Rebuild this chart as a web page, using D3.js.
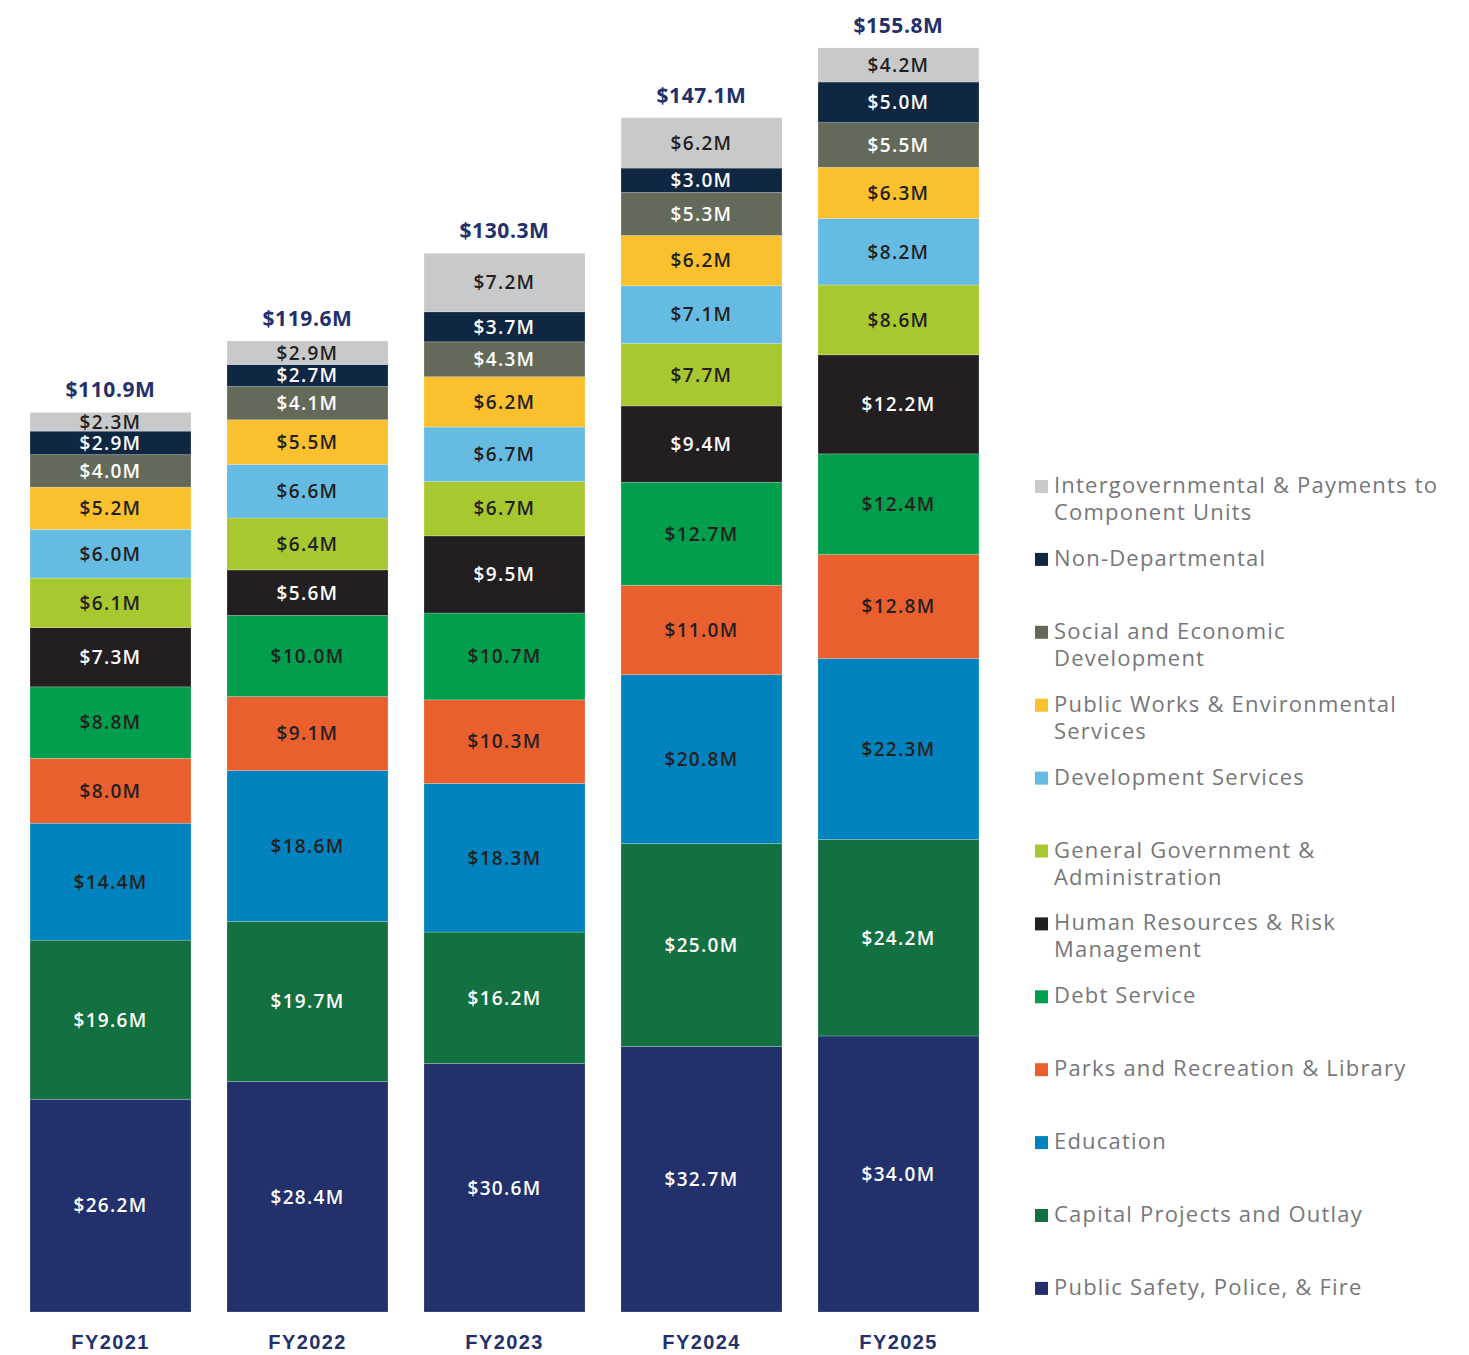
<!DOCTYPE html>
<html>
<head>
<meta charset="utf-8">
<script src="https://cdn.jsdelivr.net/npm/d3@7"></script>
<style>
  body { margin: 0; background: #fff; }
  svg { display: block; font-family: "Open Sans", "Noto Sans", sans-serif; }
  .seg-label { font-size: 19px; font-weight: 600; text-anchor: middle; letter-spacing: 1.3px; }
  .total-label { font-size: 21px; font-weight: 700; fill: #22306b; text-anchor: middle; letter-spacing: 0.6px; }
  .year-label { font-size: 20px; font-weight: 600; fill: #22306b; text-anchor: middle; letter-spacing: 1.4px; }
  .legend-text { font-size: 22px; fill: #76777a; letter-spacing: 1.2px; }
</style>
</head>
<body>
<svg id="chart" width="1469" height="1355"></svg>
<script>
// fiscal years and totals shown above each bar
const years = ["FY2021", "FY2022", "FY2023", "FY2024", "FY2025"];
const totals = [110.9, 119.6, 130.3, 147.1, 155.8];

// categories, bottom of the stack first
const categories = [
  "Public Safety, Police, & Fire",
  "Capital Projects and Outlay",
  "Education",
  "Parks and Recreation & Library",
  "Debt Service",
  "Human Resources & Risk Management",
  "General Government & Administration",
  "Development Services",
  "Public Works & Environmental Services",
  "Social and Economic Development",
  "Non-Departmental",
  "Intergovernmental & Payments to Component Units"
];

// legend wording, split the way the legend wraps it
const legendLines = {
  "Intergovernmental & Payments to Component Units": ["Intergovernmental & Payments to", "Component Units"],
  "Social and Economic Development": ["Social and Economic", "Development"],
  "Public Works & Environmental Services": ["Public Works & Environmental", "Services"],
  "General Government & Administration": ["General Government &", "Administration"],
  "Human Resources & Risk Management": ["Human Resources & Risk", "Management"]
};

const colors = [
  "#22306b", "#137040", "#0083be", "#e95f2e", "#009e4d", "#231f20",
  "#a8c82f", "#66bbe3", "#fbc02e", "#646a59", "#0f2742", "#c8c9cb"
];

// label on dark segments is white
const whiteText = [true, true, false, false, false, true, false, false, false, true, true, false];

// values in $M, one array per category, FY2021..FY2025
const publicSafety = [26.2, 28.4, 30.6, 32.7, 34.0];
const capitalProjects = [19.6, 19.7, 16.2, 25.0, 24.2];
const education = [14.4, 18.6, 18.3, 20.8, 22.3];
const parksRecreation = [8.0, 9.1, 10.3, 11.0, 12.8];
const debtService = [8.8, 10.0, 10.7, 12.7, 12.4];
const humanResources = [7.3, 5.6, 9.5, 9.4, 12.2];
const generalGovernment = [6.1, 6.4, 6.7, 7.7, 8.6];
const developmentServices = [6.0, 6.6, 6.7, 7.1, 8.2];
const publicWorks = [5.2, 5.5, 6.2, 6.2, 6.3];
const socialEconomic = [4.0, 4.1, 4.3, 5.3, 5.5];
const nonDepartmental = [2.9, 2.7, 3.7, 3.0, 5.0];
const intergovernmental = [2.3, 2.9, 7.2, 6.2, 4.2];

const seriesValues = [
  publicSafety, capitalProjects, education, parksRecreation, debtService,
  humanResources, generalGovernment, developmentServices, publicWorks,
  socialEconomic, nonDepartmental, intergovernmental
];

const rows = years.map((year, i) => {
  const row = {year: year, total: totals[i]};
  categories.forEach((c, j) => { row[c] = seriesValues[j][i]; });
  return row;
});

const svg = d3.select("#chart");

const x = d3.scaleBand()
  .domain(years)
  .range([12, 997])
  .paddingInner(0.1827)
  .paddingOuter(0.0914);

const y = d3.scaleLinear()
  .domain([0, 160])
  .range([1312, 13]);

const stack = d3.stack().keys(categories);
const series = stack(rows);

const fmt = (v) => "$" + d3.format(".1f")(v) + "M";

const layers = svg.append("g")
  .selectAll("g")
  .data(series)
  .join("g")
  .attr("fill", (d, i) => colors[i]);

layers.selectAll("rect")
  .data((d) => d)
  .join("rect")
  .attr("x", (d) => x(d.data.year))
  .attr("width", x.bandwidth())
  .attr("y", (d) => y(d[1]))
  .attr("height", (d) => y(d[0]) - y(d[1]))
  .attr("stroke", "#ffffff")
  .attr("stroke-opacity", 0.25)
  .attr("stroke-width", 0.8);

series.forEach((s, i) => {
  svg.append("g")
    .selectAll("text")
    .data(s)
    .join("text")
    .classed("seg-label", true)
    .attr("x", (d) => x(d.data.year) + x.bandwidth() / 2)
    .attr("y", (d) => (y(d[0]) + y(d[1])) / 2)
    .attr("dy", "0.36em")
    .attr("fill", whiteText[i] ? "#ffffff" : "#231f20")
    .text((d) => fmt(d[1] - d[0]));
});

svg.append("g")
  .selectAll("text")
  .data(rows)
  .join("text")
  .classed("total-label", true)
  .attr("x", (d) => x(d.year) + x.bandwidth() / 2)
  .attr("y", (d) => y(d3.sum(categories, (c) => d[c])) - 15)
  .text((d) => fmt(d.total));

// year labels under each bar
const xAxis = svg.append("g")
  .attr("transform", "translate(0," + y(0) + ")")
  .call(d3.axisBottom(x).tickSize(0).tickPadding(0));
xAxis.select(".domain").remove();
xAxis.selectAll("text")
  .attr("class", "year-label")
  .attr("y", 37)
  .attr("dy", 0)
  .attr("font-family", null)
  .attr("font-size", null);

// legend, top item first
const legendOrder = categories.map((c, i) => ({name: c, i: i})).reverse();
const legend = svg.append("g")
  .selectAll("g")
  .data(legendOrder)
  .join("g")
  .attr("transform", (d, k) => "translate(1035," + (493 + k * 72.9) + ")");

legend.append("rect")
  .attr("x", 0)
  .attr("y", -13)
  .attr("width", 13)
  .attr("height", 13)
  .attr("fill", (d) => colors[d.i]);

legend.append("text")
  .classed("legend-text", true)
  .attr("x", 19)
  .attr("y", 0)
  .selectAll("tspan")
  .data((d) => legendLines[d.name] || [d.name])
  .join("tspan")
  .attr("x", 19)
  .attr("dy", (t, k) => k === 0 ? 0 : 27)
  .text((t) => t);
</script>
</body>
</html>
